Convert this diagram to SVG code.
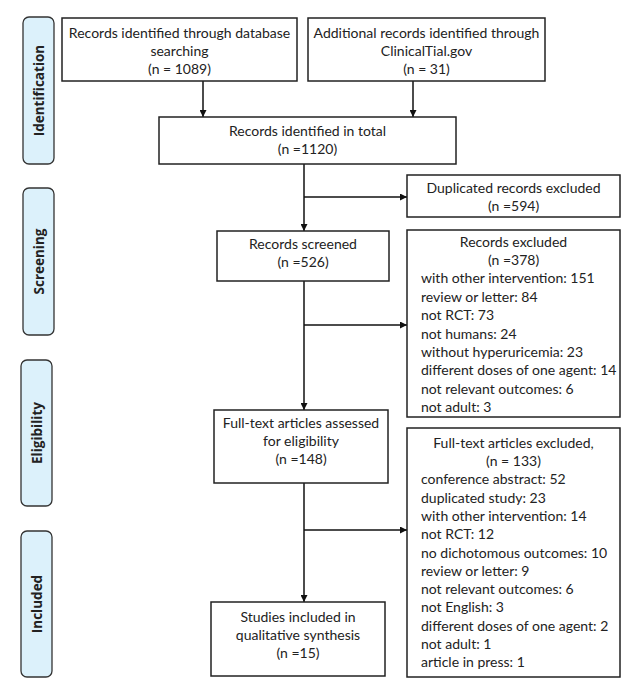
<svg xmlns="http://www.w3.org/2000/svg" width="640" height="695" viewBox="0 0 640 695">
<defs>
<marker id="ah" viewBox="0 0 10 10" refX="10" refY="5" markerWidth="7" markerHeight="7" markerUnits="userSpaceOnUse" orient="auto">
<path d="M0,0 L10,5 L0,10 z" fill="#111"/>
</marker>
<style>
.box{fill:#fff;stroke:#222;stroke-width:1.5}
.side{fill:#dcf1fb;stroke:#333;stroke-width:1.3}
.t{font-family:Lato,"Liberation Sans",sans-serif;font-size:14px;fill:#222}
.c{text-anchor:middle}
.s{font-family:"Open Sans","Liberation Sans",sans-serif;font-size:13.5px;font-weight:bold;fill:#222;text-anchor:middle}
.ln{fill:none;stroke:#111;stroke-width:1.5}
</style>
</defs>
<rect width="640" height="695" fill="#fff"/>
<g id="side-identification"><rect class="side" x="23" y="17" width="31" height="147" rx="6"/><text class="s" transform="translate(44,90.5) rotate(-90)">Identification</text></g>
<g id="side-screening"><rect class="side" x="23" y="188" width="31" height="147" rx="6"/><text class="s" transform="translate(44,261.5) rotate(-90)">Screening</text></g>
<g id="side-eligibility"><rect class="side" x="21" y="360" width="31" height="146" rx="6"/><text class="s" transform="translate(42,433) rotate(-90)">Eligibility</text></g>
<g id="side-included"><rect class="side" x="21" y="531" width="31" height="146" rx="6"/><text class="s" transform="translate(42,604) rotate(-90)">Included</text></g>

<g id="connectors">
<line class="ln" x1="203" y1="81" x2="203" y2="117" marker-end="url(#ah)"/>
<line class="ln" x1="413" y1="81" x2="413" y2="117" marker-end="url(#ah)"/>
<line class="ln" x1="304" y1="164" x2="304" y2="231" marker-end="url(#ah)"/>
<line class="ln" x1="304" y1="197" x2="407" y2="197" marker-end="url(#ah)"/>
<line class="ln" x1="304" y1="281" x2="304" y2="410" marker-end="url(#ah)"/>
<line class="ln" x1="304" y1="325" x2="407" y2="325" marker-end="url(#ah)"/>
<line class="ln" x1="304" y1="483" x2="304" y2="602" marker-end="url(#ah)"/>
<line class="ln" x1="304" y1="530" x2="407" y2="530" marker-end="url(#ah)"/>
</g>

<g id="db"><rect class="box" x="62" y="18" width="235" height="63"/>
<text class="t c" x="179.5" y="37.5">Records identified through database</text>
<text class="t c" x="179.5" y="55.5">searching</text>
<text class="t c" x="179.5" y="73.5">(n = 1089)</text></g>

<g id="ct"><rect class="box" x="308" y="18" width="237" height="63"/>
<text class="t c" x="426.5" y="37.5">Additional records identified through</text>
<text class="t c" x="426.5" y="55.5">ClinicalTial.gov</text>
<text class="t c" x="426.5" y="73.5">(n = 31)</text></g>

<g id="total"><rect class="box" x="159" y="117" width="297" height="47"/>
<text class="t c" x="307.5" y="135.5">Records identified in total</text>
<text class="t c" x="307.5" y="153.5">(n =1120)</text></g>

<g id="dup"><rect class="box" x="407" y="175" width="213" height="42"/>
<text class="t c" x="513.5" y="193">Duplicated records excluded</text>
<text class="t c" x="513.5" y="211">(n =594)</text></g>

<g id="screened"><rect class="box" x="217" y="231" width="172" height="50"/>
<text class="t c" x="303" y="248.5">Records screened</text>
<text class="t c" x="303" y="267">(n =526)</text></g>

<g id="excluded"><rect class="box" x="407" y="230" width="213" height="187"/>
<text class="t c" x="513.5" y="246.5">Records excluded</text>
<text class="t c" x="513.5" y="265">(n =378)</text>
<text class="t" x="421" y="283.4">with other intervention: 151</text>
<text class="t" x="421" y="301.8">review or letter: 84</text>
<text class="t" x="421" y="320.2">not RCT: 73</text>
<text class="t" x="421" y="338.6">not humans: 24</text>
<text class="t" x="421" y="357">without hyperuricemia: 23</text>
<text class="t" x="421" y="375.4">different doses of one agent: 14</text>
<text class="t" x="421" y="393.8">not relevant outcomes: 6</text>
<text class="t" x="421" y="412.2">not adult: 3</text></g>

<g id="fulltext"><rect class="box" x="214" y="410" width="174" height="73"/>
<text class="t c" x="301" y="427.5">Full-text articles assessed</text>
<text class="t c" x="301" y="445.5">for eligibility</text>
<text class="t c" x="301" y="463.5">(n =148)</text></g>

<g id="ftexcluded"><rect class="box" x="407" y="428" width="213" height="249"/>
<text class="t c" x="513.5" y="448">Full-text articles excluded,</text>
<text class="t c" x="513.5" y="466">(n = 133)</text>
<text class="t" x="421" y="484.3">conference abstract: 52</text>
<text class="t" x="421" y="502.6">duplicated study: 23</text>
<text class="t" x="421" y="520.9">with other intervention: 14</text>
<text class="t" x="421" y="539.2">not RCT: 12</text>
<text class="t" x="421" y="557.5">no dichotomous outcomes: 10</text>
<text class="t" x="421" y="575.8">review or letter: 9</text>
<text class="t" x="421" y="594.1">not relevant outcomes: 6</text>
<text class="t" x="421" y="612.4">not English: 3</text>
<text class="t" x="421" y="630.7">different doses of one agent: 2</text>
<text class="t" x="421" y="649">not adult: 1</text>
<text class="t" x="421" y="667.3">article in press: 1</text></g>

<g id="included"><rect class="box" x="211" y="602" width="174" height="74"/>
<text class="t c" x="298" y="622">Studies included in</text>
<text class="t c" x="298" y="640">qualitative synthesis</text>
<text class="t c" x="298" y="658">(n =15)</text></g>
</svg>
